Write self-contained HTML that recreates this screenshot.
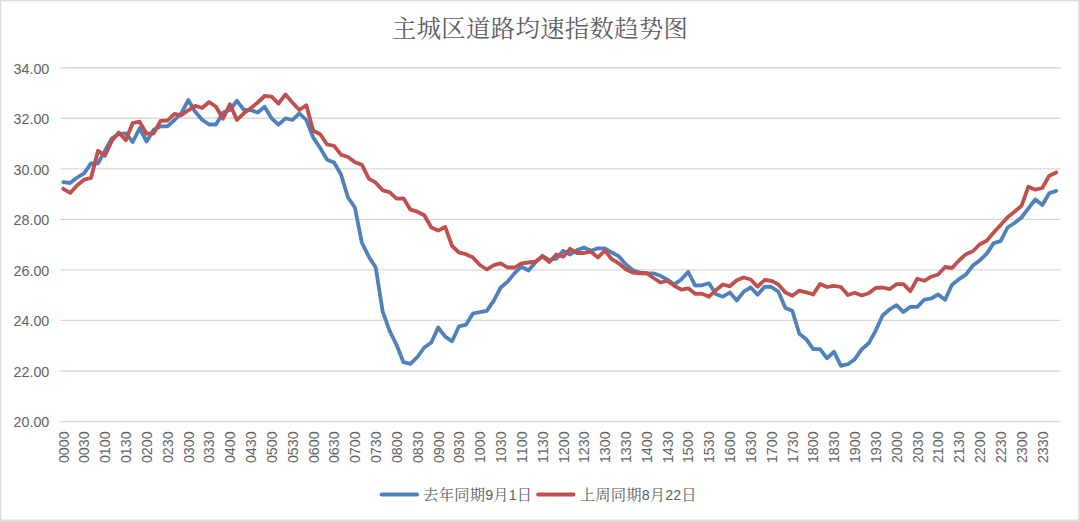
<!DOCTYPE html>
<html lang="zh-CN"><head><meta charset="utf-8">
<title>主城区道路均速指数趋势图</title>
<style>
html,body{margin:0;padding:0;background:#fff}
body{width:1080px;height:522px;overflow:hidden;font-family:"Liberation Sans",sans-serif}
svg{display:block;position:absolute;left:0;top:0}
svg text{font-family:"Liberation Sans",sans-serif;font-size:14.3px;fill:#636363;font-kerning:none}
.grid line{stroke:#d9d9d9;stroke-width:1.35}
.series{fill:none;stroke-width:3.8;stroke-linejoin:round;stroke-linecap:round}
.cjk{fill:#5f5f5f}
svg text.cjkt{font-family:"Liberation Serif","Noto Serif CJK SC",serif;fill:#5f5f5f}
</style></head>
<body>
<svg width="1080" height="522" viewBox="0 0 1080 522" role="img" aria-label="主城区道路均速指数趋势图">
<rect x="0" y="0" width="1080" height="522" fill="#dbdbdb"/>
<rect x="1.3" y="1.3" width="1076.9" height="518.1" rx="0.8" ry="0.8" fill="#ffffff"/>
<g class="grid">
<line x1="60.4" y1="67.75" x2="1060.75" y2="67.75"/>
<line x1="60.4" y1="118.29" x2="1060.75" y2="118.29"/>
<line x1="60.4" y1="168.82" x2="1060.75" y2="168.82"/>
<line x1="60.4" y1="219.36" x2="1060.75" y2="219.36"/>
<line x1="60.4" y1="269.89" x2="1060.75" y2="269.89"/>
<line x1="60.4" y1="320.43" x2="1060.75" y2="320.43"/>
<line x1="60.4" y1="370.96" x2="1060.75" y2="370.96"/>
<line x1="60.4" y1="421.50" x2="1060.75" y2="421.50"/>
</g>
<g text-anchor="end">
<text x="49.3" y="73.50">34.00</text>
<text x="49.3" y="124.04">32.00</text>
<text x="49.3" y="174.57">30.00</text>
<text x="49.3" y="225.11">28.00</text>
<text x="49.3" y="275.64">26.00</text>
<text x="49.3" y="326.18">24.00</text>
<text x="49.3" y="376.71">22.00</text>
<text x="49.3" y="427.25">20.00</text>
</g>
<g text-anchor="end">
<text transform="translate(63.87,431.3) rotate(-90)" x="0" y="4.7">0000</text>
<text transform="translate(84.70,431.3) rotate(-90)" x="0" y="4.7">0030</text>
<text transform="translate(105.53,431.3) rotate(-90)" x="0" y="4.7">0100</text>
<text transform="translate(126.36,431.3) rotate(-90)" x="0" y="4.7">0130</text>
<text transform="translate(147.19,431.3) rotate(-90)" x="0" y="4.7">0200</text>
<text transform="translate(168.02,431.3) rotate(-90)" x="0" y="4.7">0230</text>
<text transform="translate(188.85,431.3) rotate(-90)" x="0" y="4.7">0300</text>
<text transform="translate(209.68,431.3) rotate(-90)" x="0" y="4.7">0330</text>
<text transform="translate(230.51,431.3) rotate(-90)" x="0" y="4.7">0400</text>
<text transform="translate(251.34,431.3) rotate(-90)" x="0" y="4.7">0430</text>
<text transform="translate(272.17,431.3) rotate(-90)" x="0" y="4.7">0500</text>
<text transform="translate(293.00,431.3) rotate(-90)" x="0" y="4.7">0530</text>
<text transform="translate(313.83,431.3) rotate(-90)" x="0" y="4.7">0600</text>
<text transform="translate(334.66,431.3) rotate(-90)" x="0" y="4.7">0630</text>
<text transform="translate(355.49,431.3) rotate(-90)" x="0" y="4.7">0700</text>
<text transform="translate(376.32,431.3) rotate(-90)" x="0" y="4.7">0730</text>
<text transform="translate(397.16,431.3) rotate(-90)" x="0" y="4.7">0800</text>
<text transform="translate(417.99,431.3) rotate(-90)" x="0" y="4.7">0830</text>
<text transform="translate(438.82,431.3) rotate(-90)" x="0" y="4.7">0900</text>
<text transform="translate(459.65,431.3) rotate(-90)" x="0" y="4.7">0930</text>
<text transform="translate(480.48,431.3) rotate(-90)" x="0" y="4.7">1000</text>
<text transform="translate(501.31,431.3) rotate(-90)" x="0" y="4.7">1030</text>
<text transform="translate(522.14,431.3) rotate(-90)" x="0" y="4.7">1100</text>
<text transform="translate(542.97,431.3) rotate(-90)" x="0" y="4.7">1130</text>
<text transform="translate(563.80,431.3) rotate(-90)" x="0" y="4.7">1200</text>
<text transform="translate(584.63,431.3) rotate(-90)" x="0" y="4.7">1230</text>
<text transform="translate(605.46,431.3) rotate(-90)" x="0" y="4.7">1300</text>
<text transform="translate(626.29,431.3) rotate(-90)" x="0" y="4.7">1330</text>
<text transform="translate(647.12,431.3) rotate(-90)" x="0" y="4.7">1400</text>
<text transform="translate(667.95,431.3) rotate(-90)" x="0" y="4.7">1430</text>
<text transform="translate(688.78,431.3) rotate(-90)" x="0" y="4.7">1500</text>
<text transform="translate(709.61,431.3) rotate(-90)" x="0" y="4.7">1530</text>
<text transform="translate(730.44,431.3) rotate(-90)" x="0" y="4.7">1600</text>
<text transform="translate(751.27,431.3) rotate(-90)" x="0" y="4.7">1630</text>
<text transform="translate(772.10,431.3) rotate(-90)" x="0" y="4.7">1700</text>
<text transform="translate(792.93,431.3) rotate(-90)" x="0" y="4.7">1730</text>
<text transform="translate(813.76,431.3) rotate(-90)" x="0" y="4.7">1800</text>
<text transform="translate(834.59,431.3) rotate(-90)" x="0" y="4.7">1830</text>
<text transform="translate(855.42,431.3) rotate(-90)" x="0" y="4.7">1900</text>
<text transform="translate(876.25,431.3) rotate(-90)" x="0" y="4.7">1930</text>
<text transform="translate(897.08,431.3) rotate(-90)" x="0" y="4.7">2000</text>
<text transform="translate(917.91,431.3) rotate(-90)" x="0" y="4.7">2030</text>
<text transform="translate(938.74,431.3) rotate(-90)" x="0" y="4.7">2100</text>
<text transform="translate(959.57,431.3) rotate(-90)" x="0" y="4.7">2130</text>
<text transform="translate(980.40,431.3) rotate(-90)" x="0" y="4.7">2200</text>
<text transform="translate(1001.23,431.3) rotate(-90)" x="0" y="4.7">2230</text>
<text transform="translate(1022.06,431.3) rotate(-90)" x="0" y="4.7">2300</text>
<text transform="translate(1042.89,431.3) rotate(-90)" x="0" y="4.7">2330</text>
</g>
<polyline class="series" stroke="#4f81bd" points="63.3,182.2 70.2,183.0 77.2,177.5 84.1,173.3 91.0,163.3 98.0,163.3 104.9,150.8 111.9,138.3 118.8,134.2 125.8,133.3 132.7,142.0 139.6,128.3 146.6,141.5 153.5,130.0 160.5,126.3 167.4,126.3 174.4,120.0 181.3,113.3 188.3,100.0 195.2,111.7 202.1,119.7 209.1,124.5 216.0,124.5 223.0,112.5 229.9,110.0 236.9,100.8 243.8,109.7 250.7,110.0 257.7,112.5 264.6,106.7 271.6,118.3 278.5,124.7 285.5,118.3 292.4,120.0 299.3,113.3 306.3,120.0 313.2,137.5 320.2,148.0 327.1,159.7 334.1,162.5 341.0,174.5 348.0,197.5 354.9,207.5 361.8,242.5 368.8,256.7 375.7,267.5 382.7,311.7 389.6,330.8 396.6,345.0 403.5,362.2 410.4,363.8 417.4,357.0 424.3,347.5 431.3,342.5 438.2,327.5 445.2,336.7 452.1,341.3 459.0,326.3 466.0,324.7 472.9,313.5 479.9,312.1 486.8,310.8 493.8,300.6 500.7,287.5 507.6,281.7 514.6,273.1 521.5,266.7 528.5,270.5 535.4,262.5 542.4,255.8 549.3,260.0 556.3,258.7 563.2,250.8 570.1,254.5 577.1,250.0 584.0,247.5 591.0,250.8 597.9,248.3 604.9,248.3 611.8,252.5 618.7,256.2 625.7,264.2 632.6,270.0 639.6,272.5 646.5,273.3 653.5,273.3 660.4,275.8 667.3,279.6 674.3,284.5 681.2,279.5 688.2,272.0 695.1,285.5 702.1,285.3 709.0,283.3 716.0,294.2 722.9,296.7 729.8,292.5 736.8,300.5 743.7,291.7 750.7,287.5 757.6,294.7 764.6,286.7 771.5,287.0 778.4,291.7 785.4,308.0 792.3,310.8 799.3,333.8 806.2,339.2 813.2,349.2 820.1,349.2 827.0,358.3 834.0,351.7 840.9,365.8 847.9,364.2 854.8,359.2 861.8,349.2 868.7,343.3 875.6,330.8 882.6,315.5 889.5,309.5 896.5,305.2 903.4,312.1 910.4,306.8 917.3,306.8 924.3,299.7 931.2,298.5 938.1,294.4 945.1,299.8 952.0,284.7 959.0,279.2 965.9,274.7 972.9,265.5 979.8,260.4 986.7,253.7 993.7,243.1 1000.6,241.2 1007.6,227.5 1014.5,223.0 1021.5,217.5 1028.4,208.3 1035.3,199.5 1042.3,205.0 1049.2,193.3 1056.2,190.9"/>
<polyline class="series" stroke="#c0504d" points="63.3,188.8 70.2,193.0 77.2,185.3 84.1,179.7 91.0,178.0 98.0,150.8 104.9,155.8 111.9,140.8 118.8,132.5 125.8,140.3 132.7,123.0 139.6,121.7 146.6,133.7 153.5,133.7 160.5,120.8 167.4,120.5 174.4,113.8 181.3,115.3 188.3,110.3 195.2,105.8 202.1,108.0 209.1,102.0 216.0,106.7 223.0,118.7 229.9,104.2 236.9,120.0 243.8,113.3 250.7,108.3 257.7,102.5 264.6,96.0 271.6,96.7 278.5,103.7 285.5,94.4 292.4,102.5 299.3,110.0 306.3,105.2 313.2,130.8 320.2,134.2 327.1,144.5 334.1,145.8 341.0,154.7 348.0,157.0 354.9,162.2 361.8,164.7 368.8,178.6 375.7,182.7 382.7,190.3 389.6,192.2 396.6,198.7 403.5,198.3 410.4,209.7 417.4,211.7 424.3,215.3 431.3,227.5 438.2,230.6 445.2,226.8 452.1,246.0 459.0,252.5 466.0,254.2 472.9,257.5 479.9,265.0 486.8,269.5 493.8,265.2 500.7,263.3 507.6,267.5 514.6,267.5 521.5,263.3 528.5,262.5 535.4,261.7 542.4,256.2 549.3,262.0 556.3,254.5 563.2,256.7 570.1,248.8 577.1,253.0 584.0,253.0 591.0,251.7 597.9,257.5 604.9,250.5 611.8,259.2 618.7,263.3 625.7,269.2 632.6,272.5 639.6,273.3 646.5,273.0 653.5,278.0 660.4,282.5 667.3,281.0 674.3,285.8 681.2,289.7 688.2,288.3 695.1,293.8 702.1,293.7 709.0,296.7 716.0,290.0 722.9,284.5 729.8,286.3 736.8,280.3 743.7,277.5 750.7,279.5 757.6,286.7 764.6,280.0 771.5,280.8 778.4,284.5 785.4,292.5 792.3,295.8 799.3,290.6 806.2,292.3 813.2,294.5 820.1,283.9 827.0,287.0 834.0,285.8 840.9,287.0 847.9,295.0 854.8,292.8 861.8,295.5 868.7,293.3 875.6,288.0 882.6,287.5 889.5,289.2 896.5,284.2 903.4,284.2 910.4,291.2 917.3,278.7 924.3,280.8 931.2,276.7 938.1,274.5 945.1,267.0 952.0,268.0 959.0,260.5 965.9,254.2 972.9,251.3 979.8,244.2 986.7,240.8 993.7,232.5 1000.6,225.0 1007.6,217.2 1014.5,211.7 1021.5,205.8 1028.4,186.7 1035.3,189.7 1042.3,188.0 1049.2,175.8 1056.2,172.5"/>
<g class="cjk" aria-label="主城区道路均速指数趋势图"><title>主城区道路均速指数趋势图</title>
<text class="cjkt" x="391.98" y="37.10" style="font-size:24.35px;letter-spacing:0.35px">主城区道路均速指数趋势图</text>
</g>
<g class="series">
<line x1="381.5" y1="494.5" x2="417.1" y2="494.5" stroke="#4f81bd"/>
<line x1="538.1" y1="494.5" x2="573.6" y2="494.5" stroke="#c0504d"/>
</g>
<g class="cjk" aria-label="去年同期9月1日"><title>去年同期9月1日</title>
<text class="cjkt" x="423.12" y="500.00" style="font-size:15.3px;letter-spacing:0.25px">去年同期</text>
<text x="485.20" y="500.00">9</text>
<text class="cjkt" x="493.28" y="500.00" style="font-size:15.3px">月</text>
<text x="508.70" y="500.00">1</text>
<text class="cjkt" x="516.78" y="500.00" style="font-size:15.3px">日</text>
</g>
<g class="cjk" aria-label="上周同期8月22日"><title>上周同期8月22日</title>
<text class="cjkt" x="579.73" y="500.00" style="font-size:15.3px;letter-spacing:0.25px">上周同期</text>
<text x="641.80" y="500.00">8</text>
<text class="cjkt" x="649.87" y="500.00" style="font-size:15.3px">月</text>
<text x="665.30" y="500.00">2</text>
<text x="673.25" y="500.00">2</text>
<text class="cjkt" x="681.32" y="500.00" style="font-size:15.3px">日</text>
</g>
</svg>
</body></html>
